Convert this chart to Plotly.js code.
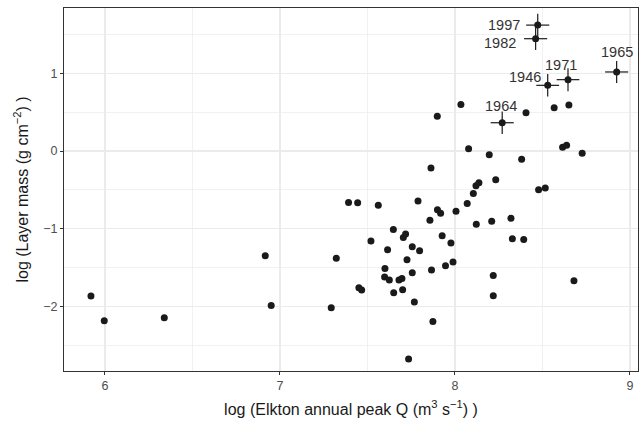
<!DOCTYPE html>
<html>
<head>
<meta charset="utf-8">
<script src="https://cdn.plot.ly/plotly-3.0.1.min.js"></script>
<style>html,body{margin:0;padding:0;background:#fff;}#chart{width:640px;height:425px;}</style>
</head>
<body>
<div id="chart"></div>
<script>
// Unlabeled years: log peak Q vs log layer mass
const logQ = [5.92, 5.996, 6.339, 6.916, 6.95, 7.293, 7.322, 7.392, 7.444, 7.451, 7.467, 7.52, 7.562, 7.6, 7.598, 7.625, 7.615, 7.648, 7.65, 7.68, 7.697, 7.701, 7.705, 7.718, 7.726, 7.735, 7.756, 7.756, 7.768, 7.789, 7.798, 7.857, 7.866, 7.874, 7.9, 7.918, 7.927, 7.946, 7.977, 7.989, 8.006, 8.07, 8.105, 8.122, 8.12, 8.137, 7.899, 8.034, 8.078, 8.196, 8.406, 8.567, 8.651, 8.381, 8.615, 8.638, 8.727, 7.863, 8.233, 8.478, 8.516, 8.21, 8.32, 8.328, 8.393, 8.219, 8.219, 8.68];
const logMass = [-1.866, -2.184, -2.145, -1.347, -1.986, -2.016, -1.381, -0.661, -0.665, -1.759, -1.789, -1.158, -0.699, -1.51, -1.622, -1.66, -1.27, -1.008, -1.824, -1.66, -1.639, -1.785, -1.111, -1.068, -1.399, -2.677, -1.232, -1.566, -1.943, -0.644, -1.283, -0.892, -1.532, -2.192, -0.755, -0.802, -1.09, -1.476, -1.184, -1.429, -0.776, -0.674, -0.545, -0.943, -0.446, -0.408, 0.446, 0.60, 0.03, -0.047, 0.493, 0.557, 0.592, -0.107, 0.047, 0.073, -0.03, -0.219, -0.369, -0.498, -0.476, -0.905, -0.866, -1.129, -1.137, -1.6, -1.862, -1.669];

// Labeled years with uncertainty
const labYears = ["1997", "1982", "1946", "1971", "1965", "1964"];
const labQ = [8.473, 8.461, 8.53, 8.646, 8.924, 8.27];
const labMass = [1.62, 1.445, 0.845, 0.918, 1.017, 0.364];
const labQerr = [0.066, 0.066, 0.065, 0.065, 0.066, 0.066];
const labMassErr = [0.145, 0.145, 0.145, 0.148, 0.142, 0.146];
const labXShift = [-34, -36, -23, -7, 0, -1];
const labYShift = [0, -4, 8, 15, 20, 17];

const ink = '#1a1a1a';
const traces = [
  {x: logQ, y: logMass, type: 'scatter', mode: 'markers',
   marker: {color: ink, size: 7}, hoverinfo: 'x+y', showlegend: false},
  {x: labQ, y: labMass, type: 'scatter', mode: 'markers',
   marker: {color: ink, size: 7},
   error_x: {type: 'data', array: labQerr, visible: true, color: ink, thickness: 1.2, width: 0},
   error_y: {type: 'data', array: labMassErr, visible: true, color: ink, thickness: 1.2, width: 0},
   text: labYears, hoverinfo: 'text+x+y', showlegend: false}
];

const annotations = labYears.map((t, i) => ({
  x: labQ[i], y: labMass[i], xref: 'x', yref: 'y', text: t, showarrow: false,
  xshift: labXShift[i], yshift: labYShift[i],
  font: {family: 'Liberation Sans, Arial, sans-serif', size: 14.5, color: '#333333'}
}));

const font = {family: 'Liberation Sans, Arial, sans-serif'};
const layout = {
  width: 640, height: 425,
  margin: {l: 64, r: 2, t: 8, b: 54},
  paper_bgcolor: '#fff', plot_bgcolor: '#fff',
  font: font,
  showlegend: false,
  annotations: annotations,
  xaxis: {
    range: [5.766, 9.046], tickvals: [6, 7, 8, 9], ticktext: ['6', '7', '8', '9'],
    showgrid: true, gridcolor: '#ebebeb', gridwidth: 1.4,
    minor: {tickvals: [6.5, 7.5, 8.5], showgrid: true, gridcolor: '#ebebeb', gridwidth: 0.7, ticks: ''},
    zeroline: false, showline: true, mirror: true, linecolor: '#333', linewidth: 1,
    ticks: 'outside', ticklen: 3, tickcolor: '#333', tickwidth: 1,
    tickfont: {family: font.family, size: 12.5, color: '#4d4d4d'},
    title: {text: 'log (Elkton annual peak Q (m<sup>3</sup> s<sup>−1</sup>) )', font: {family: font.family, size: 16, color: '#1a1a1a'}, standoff: 11}
  },
  yaxis: {
    range: [-2.83, 1.84], tickvals: [-2, -1, 0, 1], ticktext: ['−2', '−1', '0', '1'],
    showgrid: true, gridcolor: '#ebebeb', gridwidth: 1.4,
    minor: {tickvals: [-2.5, -1.5, -0.5, 0.5, 1.5], showgrid: true, gridcolor: '#ebebeb', gridwidth: 0.7, ticks: ''},
    zeroline: false, showline: true, mirror: true, linecolor: '#333', linewidth: 1,
    ticks: 'outside', ticklen: 3, tickcolor: '#333', tickwidth: 1,
    tickfont: {family: font.family, size: 12.5, color: '#4d4d4d'},
    title: {text: 'log (Layer mass (g cm<sup>−2</sup>) )', font: {family: font.family, size: 16, color: '#1a1a1a'}, standoff: 10}
  }
};

Plotly.newPlot('chart', traces, layout, {displayModeBar: false, staticPlot: true});
</script>
</body>
</html>
